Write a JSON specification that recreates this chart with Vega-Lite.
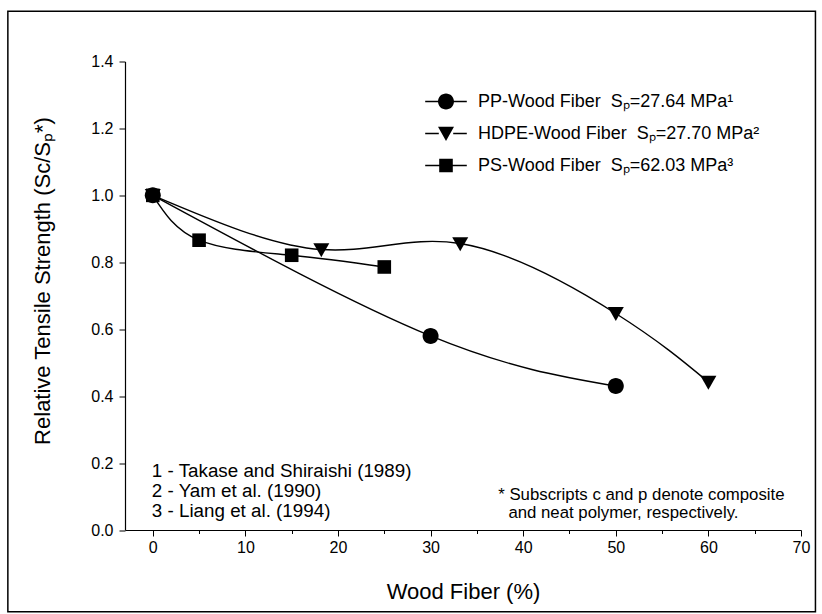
{
  "$schema": "https://vega.github.io/schema/vega-lite/v6.json",
  "width": 676,
  "height": 468.5,
  "autosize": "none",
  "padding": {"left": 125, "top": 61.5, "right": 21, "bottom": 84},
  "background": "white",
  "config": {
    "view": {"stroke": null},
    "font": "Liberation Sans",
    "text": {"font": "Liberation Sans"}
  },
  "datasets": {
    "curves": [
      {"series": "PP", "x": 0, "y": 1.0},
      {"series": "PP", "x": 30, "y": 0.58},
      {"series": "PP", "x": 50, "y": 0.43},
      {"series": "HDPE", "x": 0, "y": 1.0},
      {"series": "HDPE", "x": 18.2, "y": 0.838},
      {"series": "HDPE", "x": 33.2, "y": 0.856},
      {"series": "HDPE", "x": 50, "y": 0.647},
      {"series": "HDPE", "x": 60, "y": 0.442},
      {"series": "PS", "x": 0, "y": 1.0},
      {"series": "PS", "x": 5, "y": 0.866},
      {"series": "PS", "x": 15, "y": 0.821},
      {"series": "PS", "x": 25, "y": 0.786}
    ],
    "notes": [
      {"x": -0.1, "y": 0.176, "text": "1 - Takase and Shiraishi (1989)", "group": "refs"},
      {"x": -0.1, "y": 0.117, "text": "2 - Yam et al. (1990)", "group": "refs"},
      {"x": -0.1, "y": 0.057, "text": "3 - Liang et al. (1994)", "group": "refs"},
      {"x": 37.3, "y": 0.106, "text": "* Subscripts c and p denote composite", "group": "foot"},
      {"x": 38.4, "y": 0.051, "text": "and neat polymer, respectively.", "group": "foot"}
    ]
  },
  "layer": [
    {
      "data": {"values": [{"k": 1}]},
      "mark": {"type": "rect", "fill": null, "stroke": "black", "strokeWidth": 1.5},
      "encoding": {
        "x": {"datum": -15.65, "type": "quantitative", "scale": {"domain": [-3, 70], "nice": false, "zero": false}},
        "x2": {"datum": 71.56},
        "y": {"datum": 1.55, "type": "quantitative", "scale": {"domain": [0, 1.4], "nice": false}},
        "y2": {"datum": -0.2445}
      }
    },
    {
      "encoding": {
        "x": {
          "field": "x", "type": "quantitative",
          "scale": {"domain": [-3, 70], "nice": false, "zero": false},
          "axis": {
            "values": [0, 5, 10, 15, 20, 25, 30, 35, 40, 45, 50, 55, 60, 65, 70],
            "format": "d",
            "labelExpr": "datum.value % 10 === 0 ? datum.label : ''",
            "title": "Wood Fiber (%)",
            "grid": false,
            "domainColor": "black", "domainWidth": 1.2,
            "tickColor": "black", "tickWidth": 1,
            "tickSize": {"condition": {"test": "datum.value % 10 === 0", "value": 6}, "value": 3.5},
            "labelFontSize": 16, "labelColor": "black", "labelFont": "Liberation Sans", "labelPadding": 3,
            "labelFlush": false, "labelOverlap": false,
            "titleFontSize": 22, "titleFontWeight": "normal", "titleColor": "black", "titleFont": "Liberation Sans", "titlePadding": 26
          }
        },
        "y": {
          "field": "y", "type": "quantitative",
          "scale": {"domain": [0, 1.4], "nice": false},
          "axis": {
            "values": [0, 0.1, 0.2, 0.3, 0.4, 0.5, 0.6, 0.7, 0.8, 0.9, 1.0, 1.1, 1.2, 1.3, 1.4],
            "format": ".1f",
            "labelExpr": "round(datum.value * 10) % 2 === 0 ? datum.label : ''",
            "title": "Relative Tensile Strength (Sc/Sₚ*)",
            "grid": false,
            "domainColor": "black", "domainWidth": 1.2,
            "tickColor": "black", "tickWidth": 1,
            "tickSize": {"condition": {"test": "round(datum.value * 10) % 2 === 0", "value": 6}, "value": 3.5},
            "labelFontSize": 16, "labelColor": "black", "labelFont": "Liberation Sans", "labelPadding": 6,
            "labelFlush": false, "labelOverlap": false,
            "titleFontSize": 22, "titleFontWeight": "normal", "titleColor": "black", "titleFont": "Liberation Sans", "titlePadding": 36,
            "titleY": 219
          }
        }
      },
      "layer": [
        {
          "data": {"name": "curves"},
          "mark": {"type": "line", "interpolate": "natural", "color": "black", "strokeWidth": 1.4},
          "encoding": {
            "detail": {"field": "series", "type": "nominal"}
          }
        },
        {
          "data": {"name": "curves"},
          "mark": {"type": "point", "filled": true, "size": 256, "color": "black", "opacity": 0},
          "encoding": {
            "shape": {
              "field": "series", "type": "nominal",
              "scale": {
                "domain": ["PP", "HDPE", "PS"],
                "range": [
                  "M-2.6,-0.09H-0.9V0.09H-2.6ZM0.9,-0.09H2.6V0.09H0.9ZM-1,0A1,1 0 1 1 1,0A1,1 0 1 1 -1,0Z",
                  "M-2.6,-0.09H-0.9V0.09H-2.6ZM0.9,-0.09H2.6V0.09H0.9ZM-1,-0.85L1,-0.85L0,0.95Z",
                  "M-2.6,-0.09H-0.8V0.09H-2.6ZM0.8,-0.09H2.6V0.09H0.8ZM-0.85,-0.85H0.85V0.85H-0.85Z"
                ]
              },
              "legend": {
                "orient": "none",
                "legendX": 312,
                "legendY": 31,
                "title": null,
                "labelExpr": "datum.value === 'PP' ? 'PP-Wood Fiber\u00a0 Sₚ=27.64 MPa¹' : datum.value === 'HDPE' ? 'HDPE-Wood Fiber\u00a0 Sₚ=27.70 MPa²' : 'PS-Wood Fiber\u00a0 Sₚ=62.03 MPa³'",
                "labelFont": "Liberation Sans",
                "labelFontSize": 18,
                "labelColor": "black",
                "labelOffset": 23,
                "labelLimit": 450,
                "symbolSize": 256,
                "symbolOpacity": 1,
                "symbolFillColor": "black",
                "symbolStrokeColor": "black",
                "symbolStrokeWidth": 1.5,
                "rowPadding": 11
              }
            }
          }
        },
        {
          "data": {"name": "curves"},
          "mark": {"type": "point", "filled": true, "size": 256, "color": "black", "opacity": 1},
          "encoding": {
            "shape": {
              "field": "series", "type": "nominal",
              "scale": {
                "domain": ["PP", "HDPE", "PS"],
                "range": [
                  "M-1,0A1,1 0 1 1 1,0A1,1 0 1 1 -1,0Z",
                  "M-1,-0.8L1,-0.8L0,0.95Z",
                  "M-0.85,-0.85H0.85V0.85H-0.85Z"
                ]
              },
              "legend": null
            }
          }
        },
        {
          "data": {"name": "notes"},
          "transform": [{"filter": "datum.group === 'refs'"}],
          "mark": {"type": "text", "align": "left", "baseline": "middle", "fontSize": 18.8, "font": "Liberation Sans", "color": "black"},
          "encoding": {
            "text": {"field": "text"}
          }
        },
        {
          "data": {"name": "notes"},
          "transform": [{"filter": "datum.group === 'foot'"}],
          "mark": {"type": "text", "align": "left", "baseline": "middle", "fontSize": 16.8, "font": "Liberation Sans", "color": "black"},
          "encoding": {
            "text": {"field": "text"}
          }
        }
      ],
      "resolve": {"scale": {"shape": "independent"}}
    }
  ]
}
